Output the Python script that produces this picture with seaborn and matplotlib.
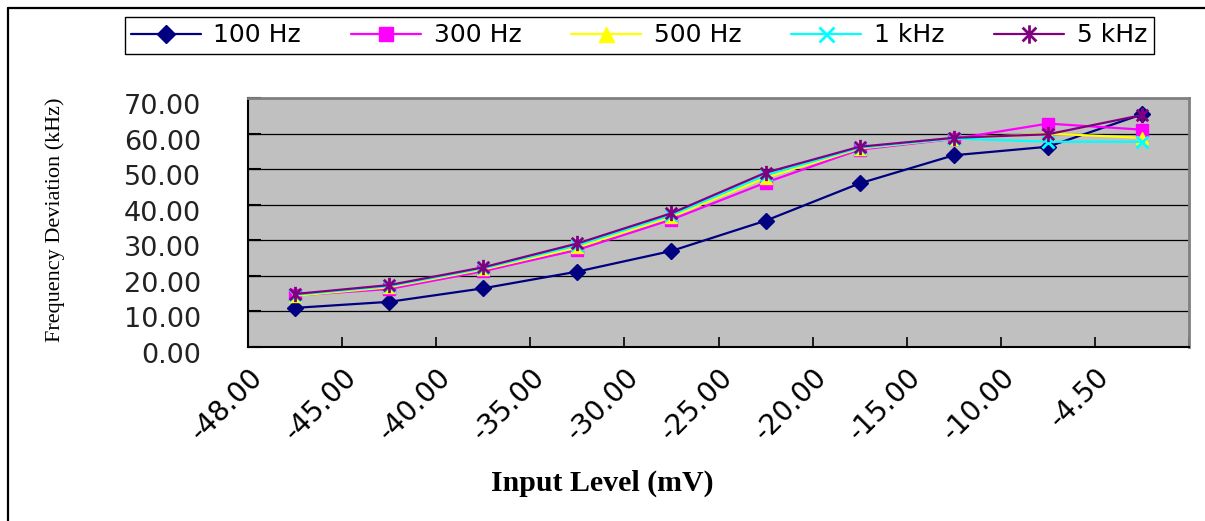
import matplotlib
matplotlib.use("Agg")
import matplotlib.pyplot as plt
import matplotlib.transforms as mtransforms
from matplotlib.lines import Line2D
from matplotlib.path import Path
from matplotlib.ticker import FixedLocator, FormatStrFormatter
import seaborn as sns

# ---- data ----
levels = ["-48.00", "-45.00", "-40.00", "-35.00", "-30.00",
          "-25.00", "-20.00", "-15.00", "-10.00", "-4.50"]
dev_100hz = [11.0, 12.7, 16.5, 21.2, 27.0, 35.5, 46.0, 53.9, 56.3, 65.4]
dev_300hz = [14.5, 16.3, 21.3, 27.3, 35.8, 46.2, 55.5, 58.5, 62.8, 61.1]
dev_500hz = [14.4, 16.8, 21.8, 28.0, 36.6, 47.6, 55.8, 58.6, 60.0, 58.8]
dev_1khz = [14.7, 17.1, 22.1, 28.6, 37.1, 48.3, 56.0, 58.6, 57.7, 57.7]
dev_5khz = [14.9, 17.4, 22.4, 29.1, 37.6, 49.0, 56.3, 58.8, 59.8, 65.2]
series_names = ["100 Hz", "300 Hz", "500 Hz", "1 kHz", "5 kHz"]
y_ticks = [0, 10, 20, 30, 40, 50, 60, 70]

series_values = [dev_100hz, dev_300hz, dev_500hz, dev_1khz, dev_5khz]

# ---- styles ----
colors = ["#000080", "#FF00FF", "#FFFF00", "#00FFFF", "#800080"]
star = Path([(0, -1), (0, 1), (-0.75, -0.75), (0.75, 0.75), (-0.75, 0.75), (0.75, -0.75)],
            [Path.MOVETO, Path.LINETO, Path.MOVETO, Path.LINETO, Path.MOVETO, Path.LINETO])
markers = ["D", "s", "^", "x", star]
msizes = [8, 8, 9, 9, 11]
mews = [1.0, 1.0, 1.0, 2.0, 2.0]

sns.set_theme(style="white")
plt.rcParams["font.family"] = ["DejaVu Sans"]

fig = plt.figure(figsize=(12.05, 5.21), dpi=100)
fig.patch.set_facecolor("white")
ax = fig.add_axes([248 / 1205, 1 - 347 / 521, (1189 - 248) / 1205, (347 - 98) / 521])
ax.set_facecolor("#C0C0C0")

for name, vals, c, m, ms, mew in zip(series_names, series_values, colors, markers, msizes, mews):
    sns.lineplot(x=levels, y=vals, ax=ax, color=c, marker=m, markersize=ms,
                 markerfacecolor=c, markeredgecolor=c, markeredgewidth=mew,
                 linewidth=1.6, label=name, sort=False, errorbar=None, legend=False)

ax.set_xlim(-0.5, len(levels) - 0.5)
ax.set_ylim(y_ticks[0], y_ticks[-1])
ax.yaxis.set_major_locator(FixedLocator(y_ticks))
ax.yaxis.set_major_formatter(FormatStrFormatter("%.2f"))
ax.grid(axis="y", color="black", linewidth=0.9)
ax.grid(axis="x", visible=False)
ax.set_axisbelow(True)

# category boundary tick marks
ax.xaxis.set_minor_locator(FixedLocator([i + 0.5 for i in range(-1, len(levels))]))
ax.tick_params(axis="x", which="major", length=0, pad=11.5, labelsize=20, labelcolor="black")
ax.tick_params(axis="x", which="minor", direction="in", length=7, width=1.2, color="black", bottom=True)
ax.tick_params(axis="y", which="major", direction="in", length=9, width=1.5, color="black",
               pad=34, labelsize=19.5, labelcolor="#222222", left=True)

offset_x = mtransforms.ScaledTranslation(-47 / 100, 0, fig.dpi_scale_trans)
for lab in ax.get_xticklabels():
    lab.set_rotation(45)
    lab.set_ha("right")
    lab.set_va("top")
    lab.set_rotation_mode("anchor")
    lab.set_transform(lab.get_transform() + offset_x)

offset_y = mtransforms.ScaledTranslation(0, -6 / 100, fig.dpi_scale_trans)
for lab in ax.get_yticklabels():
    lab.set_transform(lab.get_transform() + offset_y)

for side in ["left", "bottom"]:
    ax.spines[side].set_color("black")
    ax.spines[side].set_linewidth(1.5)
for side in ["top", "right"]:
    ax.spines[side].set_color("#808080")
    ax.spines[side].set_linewidth(2)

ax.set_xlabel("Input Level (mV)", fontsize=21.5, fontweight="bold",
              family=["Liberation Serif"], color="black")
ax.xaxis.set_label_coords(0.5, 1 - 470 / 521, transform=fig.transFigure)
ax.set_ylabel("Frequency Deviation (kHz)", fontsize=16, family=["Liberation Serif"], color="black")
ax.yaxis.set_label_coords(65 / 1205, 1 - 220 / 521, transform=fig.transFigure)

leg = ax.legend(loc="center", bbox_to_anchor=(639 / 1205, 1 - 35.5 / 521),
                bbox_transform=fig.transFigure, ncol=5, fontsize=18, frameon=True,
                fancybox=False, shadow=False, handlelength=2.8, handletextpad=0.5,
                columnspacing=2.0, borderpad=0.25, borderaxespad=0, markerscale=1.2)
leg.get_frame().set_edgecolor("black")
leg.get_frame().set_linewidth(1.0)
leg.get_frame().set_alpha(1)
for t in leg.get_texts():
    t.set_color("black")

# figure border (left and top)
fig.add_artist(Line2D([8 / 1205, 8 / 1205], [0, 1 - 8 / 521], transform=fig.transFigure,
                      color="black", linewidth=1.6))
fig.add_artist(Line2D([8 / 1205, 1], [1 - 8 / 521, 1 - 8 / 521], transform=fig.transFigure,
                      color="black", linewidth=1.6))

fig.savefig("out.png", dpi=100, facecolor="white")
